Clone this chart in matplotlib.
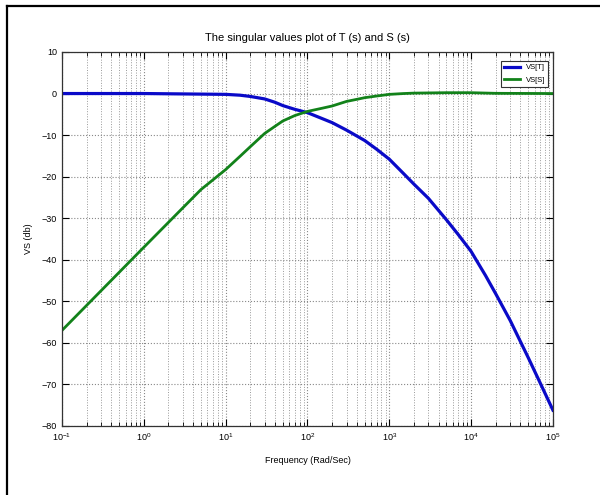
import matplotlib
matplotlib.use('Agg')
import matplotlib.pyplot as plt
from matplotlib.lines import Line2D
from matplotlib.ticker import LogLocator, NullFormatter

plt.rcParams['font.family'] = ['Liberation Sans', 'DejaVu Sans']

blue = '#0a0ac8'
green = '#12821a'

# frequency points (rad/s) and singular values (dB)
w_T = [0.1, 1, 10, 15, 20, 30, 40, 50, 70, 100, 150, 200, 300, 500, 700,
       1000, 1500, 2000, 3000, 5000, 7000, 10000, 15000, 20000, 30000,
       50000, 70000, 100000]
vs_T = [0, 0, -0.2, -0.4, -0.7, -1.3, -2.1, -2.9, -3.8, -4.6, -6.0, -7.0,
        -8.8, -11.3, -13.4, -15.8, -19.3, -21.8, -25.2, -30.4, -34.0, -38.0,
        -43.8, -48.2, -54.6, -63.6, -69.7, -76.2]

w_S = [0.1, 1, 3, 5, 10, 15, 20, 30, 40, 50, 70, 100, 150, 200, 300, 400,
       500, 700, 1000, 1500, 2000, 5000, 10000, 20000, 100000]
vs_S = [-57.0, -37.0, -27.5, -23.1, -18.3, -15.1, -12.8, -9.6, -7.9, -6.6,
        -5.3, -4.3, -3.55, -3.0, -1.9, -1.4, -1.0, -0.6, -0.2, 0.0, 0.1,
        0.2, 0.2, 0.05, 0]

x_ticks = [1e-1, 1e0, 1e1, 1e2, 1e3, 1e4, 1e5]
y_ticks = [10, 0, -10, -20, -30, -40, -50, -60, -70, -80]

fig = plt.figure(figsize=(6, 4.95), dpi=100)
ax = fig.add_axes([0.1033, 0.1394, 0.8183, 0.7556])

ax.semilogx(w_T, vs_T, color=blue, linewidth=2.3, label='VS[T]')
ax.semilogx(w_S, vs_S, color=green, linewidth=2.0, label='VS[S]')

ax.set_xlim(1e-1, 1e5)
ax.set_ylim(-80, 10)
ax.set_xticks(x_ticks)
ax.set_yticks(y_ticks)
ax.xaxis.set_minor_locator(LogLocator(base=10, subs=range(2, 10), numticks=20))
ax.xaxis.set_minor_formatter(NullFormatter())

ax.grid(True, which='major', color='#888888', linestyle=':', linewidth=0.8)
ax.grid(True, which='minor', axis='x', color='#999999', linestyle=':', linewidth=0.7)

ax.tick_params(which='both', direction='in', top=True, right=True, labelsize=6.5)
ax.tick_params(which='major', length=5)
ax.tick_params(which='minor', length=3)
for s in ax.spines.values():
    s.set_color('#333333')
    s.set_linewidth(0.9)

ax.set_title('The singular values plot of T (s) and S (s)', fontsize=8, pad=8)
ax.set_xlabel('Frequency (Rad/Sec)', fontsize=6.5, labelpad=10)
ax.set_ylabel('VS (db)', fontsize=6.5, labelpad=6)

leg = ax.legend(loc='upper right', bbox_to_anchor=(0.998, 0.986), fontsize=5.5,
                fancybox=False, framealpha=1, edgecolor='#333333',
                handlelength=2.0, borderpad=0.4, labelspacing=0.7)
leg.get_frame().set_linewidth(0.8)

# black frame on the top and left of the image
fig.add_artist(Line2D([7 / 600, 1], [1 - 6 / 495, 1 - 6 / 495],
                      transform=fig.transFigure, color='black', linewidth=1.6))
fig.add_artist(Line2D([7 / 600, 7 / 600], [0, 1 - 6 / 495],
                      transform=fig.transFigure, color='black', linewidth=1.6))

fig.savefig('out.png', dpi=100)
